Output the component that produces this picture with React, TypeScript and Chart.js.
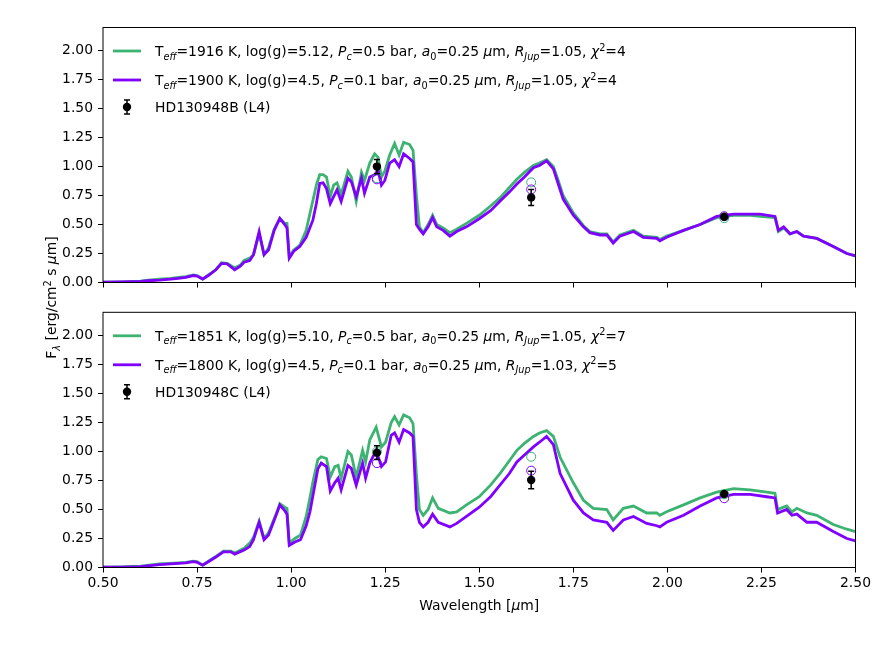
import { useEffect, useRef } from "react"
import { Chart, registerables } from "chart.js"

Chart.register(...registerables)

const FONT = "'DejaVu Sans', sans-serif"
const FS = 13.9
const GREEN = "#3cb371"
const PURPLE = "#7f00ff"
const LW = 2.8

// HD130948B (top panel) model spectra
const waveB = [
  0.5, 0.55, 0.6, 0.62, 0.65, 0.68, 0.7, 0.72, 0.74, 0.75, 0.765, 0.78, 0.8, 0.815, 0.83, 0.85, 0.865, 0.875, 0.89, 0.9,
  0.915, 0.928, 0.94,
  0.955, 0.97, 0.983, 0.989, 0.995, 1.007, 1.023, 1.04, 1.058, 1.067, 1.076, 1.085, 1.094, 1.104, 1.113, 1.122, 1.133,
  1.151, 1.16, 1.173, 1.187, 1.195, 1.209, 1.222, 1.231, 1.24, 1.249, 1.262, 1.275, 1.287, 1.299, 1.315, 1.324, 1.333,
  1.341, 1.351, 1.364, 1.376, 1.387, 1.404, 1.422, 1.44, 1.466, 1.5, 1.53, 1.555, 1.58, 1.6, 1.62, 1.644, 1.66, 1.679,
  1.697, 1.71, 1.723, 1.75, 1.777, 1.794, 1.821, 1.839, 1.856, 1.874, 1.91, 1.936, 1.972, 1.98, 1.998, 2.043, 2.087, 2.131,
  2.176, 2.22, 2.246, 2.286, 2.295, 2.309, 2.326, 2.344, 2.362, 2.397, 2.441, 2.477, 2.5,
]
const greenB = [
  0.002, 0.006, 0.012, 0.02, 0.028, 0.035, 0.045, 0.05, 0.065, 0.06, 0.03, 0.065, 0.11, 0.17, 0.165, 0.125, 0.15, 0.19, 0.21, 0.24,
  0.42, 0.24, 0.3,
  0.46, 0.553, 0.51, 0.51, 0.22, 0.28, 0.32, 0.45, 0.71, 0.84, 0.93, 0.93, 0.91, 0.74, 0.84, 0.86, 0.76,
  0.96, 0.91, 0.7, 0.95, 0.88, 1.03, 1.11, 1.08, 0.91, 0.96, 1.1, 1.2, 1.1, 1.21, 1.19, 1.14, 0.75,
  0.48, 0.43, 0.5, 0.58, 0.5, 0.47, 0.43, 0.46, 0.51, 0.58, 0.66, 0.73, 0.82, 0.89, 0.95, 1.01, 1.03, 1.06,
  1.0, 0.88, 0.75, 0.6, 0.49, 0.44, 0.42, 0.42, 0.35, 0.41, 0.45, 0.4, 0.39, 0.37, 0.4, 0.45, 0.5, 0.56,
  0.58, 0.58, 0.57, 0.56, 0.44, 0.47, 0.42, 0.44, 0.4, 0.38, 0.31, 0.25, 0.23,
]
const purpleB = [
  0.002, 0.005, 0.01, 0.015, 0.02, 0.03, 0.035, 0.045, 0.06, 0.055, 0.03, 0.06, 0.11, 0.165, 0.16, 0.11, 0.14, 0.175, 0.19, 0.24,
  0.44, 0.24, 0.28,
  0.45, 0.553, 0.5, 0.47, 0.21, 0.27, 0.31, 0.39, 0.54, 0.68, 0.855, 0.86, 0.81, 0.68, 0.74, 0.8, 0.7,
  0.9, 0.87, 0.74, 0.9, 0.77, 0.91, 0.93, 0.97, 0.84, 0.88, 1.03, 1.06, 1.0, 1.11, 1.07, 1.04, 0.5,
  0.46, 0.42, 0.48, 0.56, 0.48, 0.45, 0.4, 0.44, 0.48, 0.55, 0.62, 0.7, 0.78, 0.85, 0.91, 0.99, 1.01, 1.05,
  0.98, 0.85, 0.72, 0.58, 0.48, 0.43, 0.41, 0.41, 0.34, 0.4, 0.44, 0.39, 0.38, 0.36, 0.39, 0.45, 0.5, 0.57,
  0.59, 0.59, 0.59, 0.57, 0.45, 0.48, 0.42, 0.44, 0.4, 0.38, 0.31, 0.25, 0.23,
]

// HD130948C (bottom panel) model spectra
const waveC = [
  0.5, 0.55, 0.6, 0.65, 0.7, 0.72, 0.74, 0.75, 0.765, 0.78, 0.8, 0.82, 0.84, 0.85, 0.875, 0.89, 0.9, 0.915, 0.928, 0.94,
  0.96, 0.97, 0.983, 0.989, 0.995, 1.01, 1.025, 1.04, 1.05, 1.058, 1.071, 1.08, 1.094, 1.104, 1.116, 1.125, 1.133,
  1.151, 1.16, 1.173, 1.19, 1.198, 1.209, 1.226, 1.24, 1.251, 1.266, 1.275, 1.287, 1.299, 1.315, 1.324, 1.333,
  1.341, 1.351, 1.364, 1.376, 1.391, 1.422, 1.44, 1.466, 1.5, 1.53, 1.555, 1.58, 1.6, 1.62, 1.644, 1.66, 1.679, 1.697,
  1.715, 1.75, 1.777, 1.803, 1.839, 1.856, 1.883, 1.91, 1.945, 1.972, 1.98, 1.998, 2.043, 2.087, 2.131, 2.176, 2.22,
  2.264, 2.286, 2.293, 2.317, 2.331, 2.344, 2.371, 2.397, 2.441, 2.477, 2.5,
]
const greenC = [
  0.003, 0.006, 0.012, 0.03, 0.04, 0.045, 0.055, 0.05, 0.02, 0.055, 0.095, 0.14, 0.14, 0.125, 0.165, 0.21, 0.26, 0.4, 0.25, 0.3,
  0.46, 0.55, 0.52, 0.51, 0.21, 0.25, 0.28, 0.44, 0.6, 0.74, 0.93, 0.955, 0.94, 0.78, 0.87, 0.88, 0.77,
  1.0, 0.97, 0.78, 1.01, 0.91, 1.1, 1.21, 1.04, 1.08, 1.25, 1.3, 1.23, 1.315, 1.29, 1.24, 0.8,
  0.5, 0.45, 0.5, 0.6, 0.51, 0.47, 0.48, 0.54, 0.61, 0.71, 0.81, 0.92, 1.01, 1.07, 1.13, 1.16, 1.18, 1.13,
  0.95, 0.73, 0.58, 0.51, 0.5, 0.41, 0.51, 0.53, 0.47, 0.47, 0.45, 0.48, 0.54, 0.6, 0.65, 0.68, 0.67,
  0.65, 0.64, 0.5, 0.53, 0.48, 0.51, 0.47, 0.45, 0.37, 0.33, 0.31,
]
const purpleC = [
  0.002, 0.004, 0.008, 0.025, 0.035, 0.04, 0.05, 0.045, 0.02, 0.05, 0.09, 0.135, 0.135, 0.115, 0.15, 0.18, 0.24, 0.39, 0.24, 0.28,
  0.45, 0.539, 0.49, 0.46, 0.19, 0.22, 0.24, 0.36, 0.48, 0.62, 0.85, 0.9, 0.87, 0.66, 0.73, 0.77, 0.67,
  0.88, 0.855, 0.71, 0.9, 0.77, 0.9, 1.01, 0.87, 0.91, 1.14, 1.16, 1.08, 1.19, 1.16, 1.13, 0.5,
  0.39, 0.35, 0.39, 0.46, 0.39, 0.35, 0.38, 0.44, 0.52, 0.61, 0.71, 0.81, 0.91, 0.97, 1.04, 1.08, 1.13, 1.06,
  0.81, 0.58, 0.47, 0.41, 0.39, 0.32, 0.41, 0.44, 0.38, 0.36, 0.35, 0.39, 0.45, 0.53, 0.6, 0.63, 0.63,
  0.61, 0.6, 0.47, 0.5, 0.45, 0.46, 0.39, 0.39, 0.31, 0.25, 0.23,
]

// J, H, K photometry
const photWave = [1.228, 1.638, 2.151]
const obsB = [1.0, 0.734, 0.567]
const errB = [0.062, 0.069, 0.012]
const modelGreenB = [0.9, 0.864, 0.555]
const modelPurpleB = [0.89, 0.803, 0.572]
const obsC = [0.99, 0.754, 0.634]
const errC = [0.06, 0.076, 0.012]
const modelGreenC = [1.0, 0.955, 0.63]
const modelPurpleC = [0.9, 0.835, 0.597]

type Seg = { t: string; it?: boolean; sub?: boolean; sup?: boolean }

function modelRow(teff: string, logg: string, pc: string, r: string, chi: string): Seg[] {
  return [
    { t: "T" }, { t: "eff", it: true, sub: true }, { t: `=${teff} K, log(g)=${logg}, ` },
    { t: "P", it: true }, { t: "c", it: true, sub: true }, { t: `=${pc} bar, ` },
    { t: "a", it: true }, { t: "0", sub: true }, { t: "=0.25 " }, { t: "μ", it: true }, { t: "m, " },
    { t: "R", it: true }, { t: "Jup", it: true, sub: true }, { t: `=${r}, ` },
    { t: "χ", it: true }, { t: "2", sup: true }, { t: `=${chi}` },
  ]
}

const legendB: Seg[][] = [
  modelRow("1916", "5.12", "0.5", "1.05", "4"),
  modelRow("1900", "4.5", "0.1", "1.05", "4"),
  [{ t: "HD130948B (L4)" }],
]

const legendC: Seg[][] = [
  modelRow("1851", "5.10", "0.5", "1.05", "7"),
  modelRow("1800", "4.5", "0.1", "1.03", "5"),
  [{ t: "HD130948C (L4)" }],
]

const yLabel: Seg[] = [
  { t: "F" }, { t: "λ", it: true, sub: true }, { t: " [erg/cm" }, { t: "2", sup: true }, { t: " s " }, { t: "μ", it: true }, { t: "m]" },
]
const xLabel: Seg[] = [{ t: "Wavelength [" }, { t: "μ", it: true }, { t: "m]" }]

function segFont(s: Seg) {
  const size = s.sub || s.sup ? FS * 0.7 : FS
  return `${s.it ? "italic " : ""}${size}px ${FONT}`
}

function richWidth(ctx: CanvasRenderingContext2D, segs: Seg[]) {
  let w = 0
  for (const s of segs) {
    ctx.font = segFont(s)
    w += ctx.measureText(s.t).width
  }
  return w
}

function drawRich(ctx: CanvasRenderingContext2D, segs: Seg[], x: number, y: number) {
  let cx = x
  ctx.textBaseline = "alphabetic"
  ctx.textAlign = "left"
  for (const s of segs) {
    ctx.font = segFont(s)
    const dy = s.sub ? 3.5 : s.sup ? -5.5 : 0
    ctx.fillText(s.t, cx, y + dy)
    cx += ctx.measureText(s.t).width
  }
}

// draws error bars under the black points
const errorBarPlugin = {
  id: "errorBars",
  beforeDatasetDraw(chart: any, args: any) {
    const ds = chart.data.datasets[args.index]
    if (!ds.errors) return
    const ctx = chart.ctx
    const ys = chart.scales.y
    ctx.save()
    ctx.strokeStyle = "#000"
    ctx.lineWidth = 1.5
    args.meta.data.forEach((el: any, i: number) => {
      const v = ds.data[i].y
      const e = ds.errors[i]
      const y1 = ys.getPixelForValue(v + e)
      const y2 = ys.getPixelForValue(v - e)
      ctx.beginPath()
      ctx.moveTo(el.x, y1)
      ctx.lineTo(el.x, y2)
      ctx.moveTo(el.x - 3, y1)
      ctx.lineTo(el.x + 3, y1)
      ctx.moveTo(el.x - 3, y2)
      ctx.lineTo(el.x + 3, y2)
      ctx.stroke()
    })
    ctx.restore()
  },
}

function makeDecor(legend: Seg[][], bottom: boolean) {
  return {
    id: "decor",
    afterDraw(chart: any) {
      const ctx = chart.ctx
      const a = chart.chartArea
      ctx.save()
      ctx.strokeStyle = "#000"
      ctx.lineWidth = 1
      ctx.strokeRect(a.left, a.top, a.right - a.left, a.bottom - a.top)

      // legend
      const rows = [a.top + 23.5, a.top + 52.5, a.top + 79.5]
      ctx.lineWidth = LW
      ctx.strokeStyle = GREEN
      ctx.beginPath()
      ctx.moveTo(113, rows[0])
      ctx.lineTo(141, rows[0])
      ctx.stroke()
      ctx.strokeStyle = PURPLE
      ctx.beginPath()
      ctx.moveTo(113, rows[1])
      ctx.lineTo(141, rows[1])
      ctx.stroke()
      ctx.strokeStyle = "#000"
      ctx.lineWidth = 1.5
      ctx.beginPath()
      ctx.moveTo(127, rows[2] - 7)
      ctx.lineTo(127, rows[2] + 7)
      ctx.moveTo(124, rows[2] - 7)
      ctx.lineTo(130, rows[2] - 7)
      ctx.moveTo(124, rows[2] + 7)
      ctx.lineTo(130, rows[2] + 7)
      ctx.stroke()
      ctx.fillStyle = "#000"
      ctx.beginPath()
      ctx.arc(127, rows[2], 4.2, 0, Math.PI * 2)
      ctx.fill()
      legend.forEach((segs, i) => drawRich(ctx, segs, 155, rows[i] + 5))

      if (bottom) {
        const xw = richWidth(ctx, xLabel)
        drawRich(ctx, xLabel, (a.left + a.right) / 2 - xw / 2, 610)
        const yw = richWidth(ctx, yLabel)
        ctx.translate(56, 297.5)
        ctx.rotate(-Math.PI / 2)
        drawRich(ctx, yLabel, -yw / 2, 0)
      }
      ctx.restore()
    },
  }
}

function Panel({ wave, green, purple, obs, err, modelGreen, modelPurple, legend, top, bottom, showX }: any) {
  const chartRef = useRef<HTMLCanvasElement>(null)

  useEffect(() => {
    if (!chartRef.current) return
    const toXY = (xs: number[], ys: number[]) => xs.map((x, i) => ({ x, y: ys[i] }))
    const tickFont = { family: FONT, size: FS }
    const grid = { drawOnChartArea: false, drawTicks: true, tickLength: 5, tickColor: "#000", tickWidth: 1 }

    const chart = new Chart(chartRef.current, {
      type: "line",
      data: {
        datasets: [
          {
            label: "obs",
            data: toXY(photWave, obs),
            errors: err,
            showLine: false,
            pointRadius: 4.2,
            pointBackgroundColor: "#000",
            pointBorderColor: "#000",
            pointBorderWidth: 0,
            order: 0,
          },
          {
            label: "model purple phot",
            data: toXY(photWave, modelPurple),
            showLine: false,
            pointRadius: 4.5,
            pointBackgroundColor: "rgba(0,0,0,0)",
            pointBorderColor: PURPLE,
            pointBorderWidth: 1,
            order: 1,
          },
          {
            label: "model green phot",
            data: toXY(photWave, modelGreen),
            showLine: false,
            pointRadius: 4.5,
            pointBackgroundColor: "rgba(0,0,0,0)",
            pointBorderColor: GREEN,
            pointBorderWidth: 1,
            order: 2,
          },
          {
            label: "purple",
            data: toXY(wave, purple),
            borderColor: PURPLE,
            borderWidth: LW,
            pointRadius: 0,
            tension: 0,
            order: 3,
          },
          {
            label: "green",
            data: toXY(wave, green),
            borderColor: GREEN,
            borderWidth: LW,
            pointRadius: 0,
            tension: 0,
            order: 4,
          },
        ] as any,
      },
      options: {
        animation: false,
        responsive: false,
        events: [],
        layout: { padding: { left: 0, right: 35.5, top, bottom } },
        plugins: { legend: { display: false }, tooltip: { enabled: false } },
        scales: {
          x: {
            type: "linear",
            min: 0.5,
            max: 2.5,
            afterFit: (s: any) => {
              s.height = 50
            },
            ticks: {
              stepSize: 0.25,
              autoSkip: false,
              maxRotation: 0,
              padding: 3,
              color: "#000",
              font: tickFont,
              callback: (v: any) => (showX ? Number(v).toFixed(2) : ""),
            },
            grid,
            border: { display: false },
          },
          y: {
            min: 0,
            max: 2.2,
            afterFit: (s: any) => {
              s.width = 103
            },
            ticks: {
              stepSize: 0.25,
              includeBounds: false,
              padding: 5,
              color: "#000",
              font: tickFont,
              callback: (v: any) => Number(v).toFixed(2),
            },
            grid,
            border: { display: false },
          },
        },
      } as any,
      plugins: [errorBarPlugin, makeDecor(legend, showX)],
    })

    return () => {
      chart.destroy()
    }
  }, [])

  return (
    <canvas
      ref={chartRef}
      width={891}
      height={652}
      style={{ position: "absolute", left: 0, top: 0, width: 891, height: 652 }}
    />
  )
}

export default function App() {
  return (
    <div style={{ position: "absolute", left: 0, top: 0, width: 891, height: 652, background: "#fff" }}>
      <Panel
        wave={waveC}
        green={greenC}
        purple={purpleC}
        obs={obsC}
        err={errC}
        modelGreen={modelGreenC}
        modelPurple={modelPurpleC}
        legend={legendC}
        top={312.3}
        bottom={652 - 567.5 - 50}
        showX={true}
      />
      <Panel
        wave={waveB}
        green={greenB}
        purple={purpleB}
        obs={obsB}
        err={errB}
        modelGreen={modelGreenB}
        modelPurple={modelPurpleB}
        legend={legendB}
        top={27.5}
        bottom={652 - 282.5 - 50}
        showX={false}
      />
    </div>
  )
}
